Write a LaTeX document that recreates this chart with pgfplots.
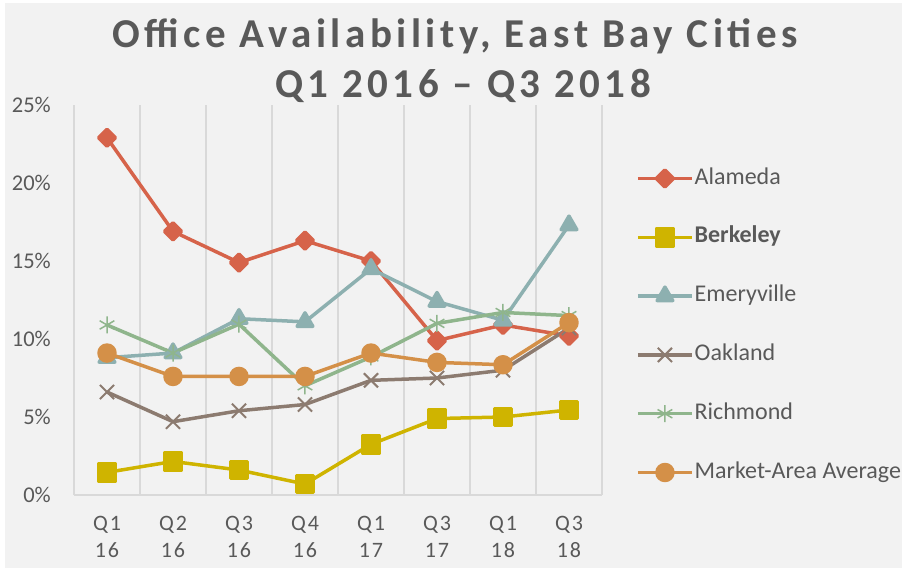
\documentclass[border=0pt]{standalone}
\usepackage{fontspec}
\setmainfont{Carlito}
\newfontfamily\spacedfont[LetterSpace=11]{Carlito}
\newfontfamily\tickfont[LetterSpace=9]{Carlito}
\usepackage{pgfplots}
\pgfplotsset{compat=1.18}

\definecolor{bgc}{HTML}{F2F2F2}
\definecolor{gridc}{HTML}{D9D9D9}
\definecolor{txt}{HTML}{595959}
\definecolor{alameda}{HTML}{D6634A}
\definecolor{berkeley}{HTML}{CFB400}
\definecolor{emery}{HTML}{8DB0B0}
\definecolor{oakland}{HTML}{8C7B70}
\definecolor{richmond}{HTML}{8FB58C}
\definecolor{market}{HTML}{D49048}

\begin{document}
\begin{tikzpicture}
\useasboundingbox (0,0) rectangle (902pt,568pt);
\clip (0,0) rectangle (902pt,568pt);
\fill[white] (0,0) rectangle (902pt,568pt);
\fill[bgc] (5pt,0) rectangle (902pt,565pt);

\node[anchor=base, text=txt, font=\spacedfont\bfseries\fontsize{41}{48}\selectfont] at (455pt,520pt) {Office Availability, East Bay Cities};
\node[anchor=base, text=txt, font=\spacedfont\bfseries\fontsize{41}{48}\selectfont] at (463pt,470pt) {Q1 2016 \textendash{} Q3 2018};

\begin{axis}[
    at={(74pt,73pt)}, anchor=south west,
    width=528pt, height=390pt, scale only axis,
    xmin=-0.5, xmax=7.5, ymin=0, ymax=25,
    xtick={0,...,7},
    xticklabels={{Q1\\16},{Q2\\16},{Q3\\16},{Q4\\16},{Q1\\17},{Q3\\17},{Q1\\18},{Q3\\18}},
    xticklabel style={align=center, inner sep=0pt, yshift=-21pt, text=txt,
        font=\tickfont\fontsize{22}{27.5}\selectfont},
    minor xtick={-0.5,0.5,...,7.5},
    xminorgrids,
    minor grid style={draw=gridc, line width=1.5pt},
    major tick length=0pt, minor tick length=0pt,
    ytick={0,5,...,25},
    yticklabels={0\%,5\%,10\%,15\%,20\%,25\%},
    yticklabel style={inner sep=0pt, xshift=-23pt, text=txt, font=\fontsize{22.5}{27}\selectfont},
    axis x line*=bottom, axis y line*=left,
    x axis line style={draw=gridc, line width=1.5pt, -},
    y axis line style={draw=none},
    every axis plot/.append style={line width=3.5pt, line join=round},
    legend style={at={(1.0644,0.4346)}, anchor=west, draw=none, fill=none,
        inner sep=0pt, row sep=37.8pt, text=txt,
        font=\fontsize{24}{28}\selectfont,
        nodes={inner sep=0pt, text height=16pt, text depth=5pt},
        /tikz/every odd column/.style={column sep=1pt}},
    legend cell align=left,
    legend image code/.code={\draw[mark repeat=2, mark phase=2] plot coordinates {(0pt,0pt) (27pt,0pt) (54pt,0pt)};},
]

\addplot[alameda, mark=diamond*, mark size=8.5pt, mark options={xscale=1.333}] coordinates {
    (0,22.9) (1,16.9) (2,14.9) (3,16.3) (4,15.0) (5,9.9) (6,10.9) (7,10.2)
};
\addlegendentry{Alameda}

\addplot[berkeley, mark=square*, mark size=8.5pt] coordinates {
    (0,1.45) (1,2.15) (2,1.6) (3,0.7) (4,3.25) (5,4.9) (6,5.0) (7,5.45)
};
\addlegendentry{\textbf{Berkeley}}

\addplot[emery, mark=triangle*, mark size=9pt] coordinates {
    (0,8.8) (1,9.1) (2,11.3) (3,11.1) (4,14.5) (5,12.4) (6,11.2) (7,17.3)
};
\addlegendentry{Emeryville}

\addplot[oakland, mark=x, mark size=10pt, mark options={line width=2pt}] coordinates {
    (0,6.6) (1,4.7) (2,5.4) (3,5.8) (4,7.35) (5,7.5) (6,8.0) (7,10.7)
};
\addlegendentry{Oakland}

\addplot[richmond, mark=asterisk, mark size=8.5pt, mark options={line width=1.5pt}] coordinates {
    (0,10.9) (1,9.1) (2,10.95) (3,7.0) (4,8.85) (5,11.0) (6,11.7) (7,11.5)
};
\addlegendentry{Richmond}

\addplot[market, mark=*, mark size=8pt] coordinates {
    (0,9.1) (1,7.6) (2,7.6) (3,7.6) (4,9.1) (5,8.5) (6,8.35) (7,11.05)
};
\addlegendentry{Market-Area Average}

\end{axis}
\end{tikzpicture}
\end{document}
